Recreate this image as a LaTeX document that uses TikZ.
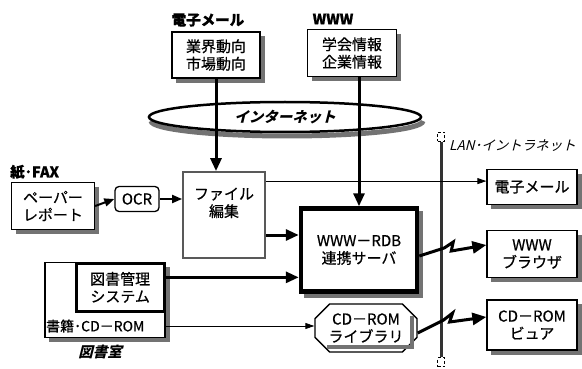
\documentclass[tikz,border=0pt]{standalone}
\usepackage{fontspec}
\setmainfont{Noto Sans CJK JP}[FakeBold=0.6]
\newfontfamily\slantfont{Noto Sans CJK JP}[FakeSlant=0.25]
\usetikzlibrary{arrows.meta,positioning,calc,shapes.geometric,shapes.misc}

\begin{document}
\begin{tikzpicture}[
  x=1pt, y=-1pt,
  every node/.style={font=\fontsize{15}{17.5}\selectfont},
  rim/.style={line width=4pt, draw=black!55, line join=miter},
  box/.style={draw, line width=1.3pt, fill=white, align=center, inner sep=2pt},
  tag/.style={font=\fontsize{14.5}{17}\selectfont\bfseries},
  fatarrow/.style={line width=3pt, -{Triangle[length=13pt, width=11pt]}},
  midarrow/.style={line width=2pt, -{Triangle[length=10pt, width=8pt]}},
  slimarrow/.style={line width=0.8pt, -{Triangle[length=9pt, width=6pt]}},
  bolt/.style={line width=3pt, line join=miter, -{Triangle[length=14pt, width=12pt]}},
  port/.style={draw, densely dashed, line width=0.6pt, minimum width=7pt, minimum height=9pt, inner sep=0pt}
]
\useasboundingbox (0,0) rectangle (582,369);

% the internet ring, its rim first so the fill covers the inside
\coordinate (inetc) at (285,117);
\draw[rim, line width=5pt] ($(inetc)+(-134,4)$) arc[start angle=180, end angle=0, x radius=136, y radius=15];
\node[ellipse, draw, line width=2.5pt, fill=white, minimum width=272pt, minimum height=30pt,
      font=\fontsize{14.5}{17}\selectfont\slantfont\bfseries] (inet) at (inetc) {インターネット};

% sources on the internet
\node[tag] (maillbl) at (208,20) {電子メール};
\node[box, minimum width=88pt, minimum height=46pt] (trend) at (216,55) {業界動向\\市場動向};
\node[tag] (wwwlbl) at (333,19) {WWW};
\node[box, minimum width=89pt, minimum height=47pt] (info) at (352,53) {学会情報\\企業情報};

% paper input and editing
\node[tag, anchor=west, inner sep=0pt] (fax) at (10,172) {紙･FAX};
\node[box, minimum width=83pt, minimum height=47pt] (report) at (53,206) {ペーパー\\レポート};
\node[draw, rounded corners=4pt, line width=1.3pt, minimum width=44pt, minimum height=25pt, inner sep=1pt] (ocr) at (137,199) {OCR};
\node[draw=black!65, line width=1.8pt, fill=white, align=center, minimum width=82pt, minimum height=86pt] (edit) at (224,215) {ファイル\\編集\\[8pt]};
\node[box, line width=4.5pt, minimum width=116pt, minimum height=83pt] (server) at (359,250) {WWW－RDB\\連携サーバ};

% library
\node[box, minimum width=120pt, minimum height=75pt] (lib) at (105,300) {};
\node[draw, line width=3pt, fill=white, align=center, minimum width=88pt, minimum height=48pt, anchor=north east] (system) at (lib.north east) {図書管理\\システム};
\node[anchor=west, inner sep=1pt, font=\fontsize{14}{16}\selectfont] (books) at (45,326) {書籍･CD－ROM};
\node[font=\fontsize{14.5}{17}\selectfont\slantfont\bfseries] (room) at (100,352) {図書室};
\node[box, chamfered rectangle, chamfered rectangle xsep=11pt, minimum width=102pt, minimum height=48pt] (cdlib) at (366,328) {CD－ROM\\ライブラリ};

% LAN side
\node[port] (lantop) at (441,137) {};
\node[port] (lanbot) at (441,362) {};
\draw[line width=3pt, draw=black!80] (lantop.south) -- (lanbot.north);
\node[anchor=west, inner sep=0pt, font=\fontsize{13.5}{15}\selectfont\slantfont] (lanlbl) at (449,146) {LAN･イントラネット};
\node[box, minimum width=90pt, minimum height=35pt] (mailout) at (532,187) {電子メール};
\node[box, minimum width=90pt, minimum height=47pt] (browser) at (532,254) {WWW\\ブラウザ};
\node[box, minimum width=90pt, minimum height=50pt] (viewer) at (532,325) {CD－ROM\\ビュア};

% shaded strips along the right and lower edges
\foreach \n in {trend,info,report,server,lib,cdlib,mailout,browser,viewer}
  \draw[rim] ($(\n.north east)+(2,5)$) -- ($(\n.south east)+(2,2)$) -- ($(\n.south west)+(5,2)$);

% connectors
\coordinate (editmail) at ($(edit.north east)+(0,10)$);
\coordinate (editsrv) at ($(edit.east)+(0,20)$);
\coordinate (syssrv) at ($(system.east)+(0,-10)$);
\coordinate (srvout) at ($(server.east)+(0,6)$);
\coordinate (cdout) at ($(cdlib.east)+(0,5)$);
\coordinate (browserin) at ($(browser.west)+(0,-9)$);
\coordinate (viewerin) at ($(viewer.west)+(0,-8)$);

\draw[fatarrow] (trend.south) -- (trend.south |- edit.north);
\draw[fatarrow] (info.south -| server.north) -- (server.north);
\draw[midarrow] (report.east) -- (ocr.west);
\draw[midarrow] (ocr.east) -- (ocr.east -| edit.west);
\draw[slimarrow] (editmail) -- (editmail -| mailout.west);
\draw[fatarrow] (editsrv) -- (editsrv -| server.west);
\draw[fatarrow] (syssrv) -- (syssrv -| server.west);
\draw[slimarrow] (books -| lib.east) -- (books -| cdlib.west);
\draw[bolt] (srvout) -- ++(25,-8) -- ++(9,-6) -- ++(-2,9) -- (browserin);
\draw[bolt] (cdout) -- ++(26,-13) -- ++(9,-7) -- ++(-3,9) -- (viewerin);
\end{tikzpicture}
\end{document}
